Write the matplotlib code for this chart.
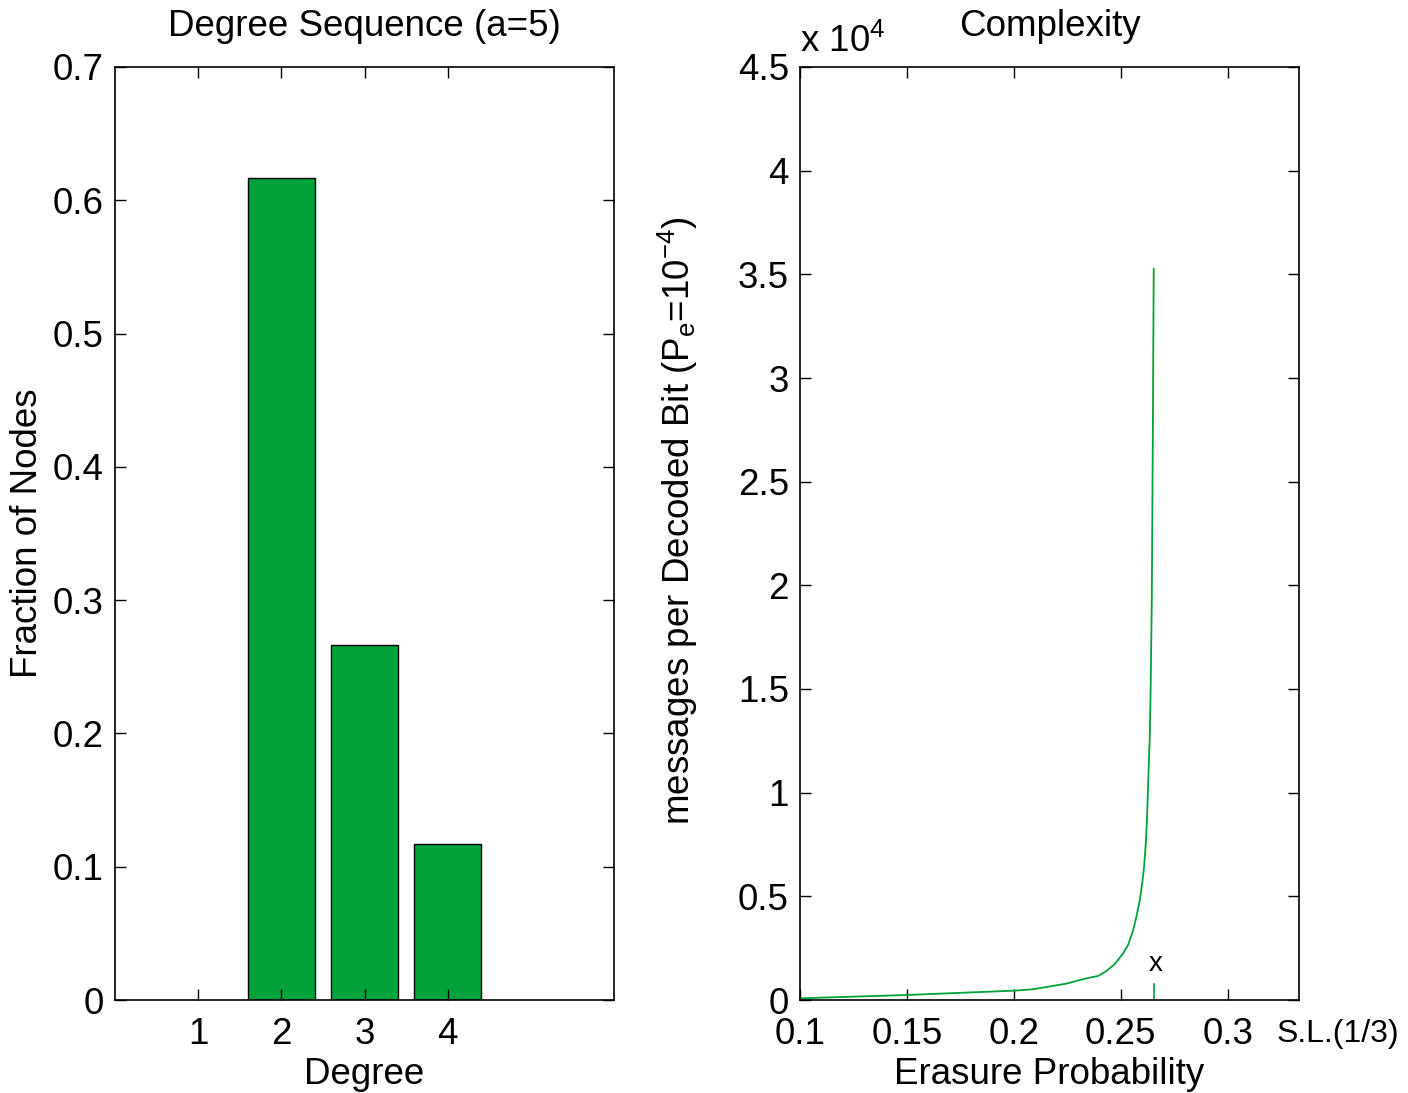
import matplotlib

matplotlib.use("Agg")

import matplotlib.pyplot as plt  # noqa: E402
from matplotlib.ticker import FuncFormatter  # noqa: E402

plt.rcParams["font.family"] = ["Liberation Sans", "DejaVu Sans"]
plt.rcParams["mathtext.fontset"] = "custom"
plt.rcParams["mathtext.rm"] = "Liberation Sans"
plt.rcParams["mathtext.it"] = "Liberation Sans"

# ---- data -----------------------------------------------------------------
degrees = [2, 3, 4]
fractions = [0.617, 0.266, 0.117]
degree_ticks = [1, 2, 3, 4]

erasure_prob = [0.1, 0.1499, 0.1997, 0.2089, 0.2246, 0.2340, 0.2394, 0.2433,
                0.2472, 0.2511, 0.2534, 0.2558, 0.2573, 0.2589, 0.2600, 0.2609,
                0.2617, 0.2623, 0.2629, 0.2636, 0.2640, 0.2643, 0.2645, 0.2650,
                0.2654]
messages = [82, 241, 449, 516, 790, 1047, 1158, 1399,
            1736, 2251, 2653, 3376, 4019, 4823, 5628, 6430,
            7558, 8840, 10770, 12862, 15274, 17686, 19292, 27490,
            35256]

threshold = 0.2655
threshold_mark = [0, 770]
erasure_ticks = [0.1, 0.15, 0.2, 0.25, 0.3]
message_ticks = [0, 5000, 10000, 15000, 20000, 25000, 30000, 35000, 40000, 45000]

GREEN = "#00a33a"
FS = 26.5

fig = plt.figure(figsize=(14.08, 10.93), dpi=100)
ax1 = fig.add_axes([115 / 1408, 93 / 1093, 499 / 1408, 933 / 1093])
ax2 = fig.add_axes([800 / 1408, 93 / 1093, 499 / 1408, 933 / 1093])


def _style(ax):
    ax.tick_params(direction="in", length=8, width=1, top=True, right=True,
                   labelsize=FS)
    ax.tick_params(axis="y", pad=8)
    ax.tick_params(axis="x", pad=12)
    for sp in ax.spines.values():
        sp.set_linewidth(1.2)


# ---- left: degree sequence -------------------------------------------------
ax1.bar(degrees, fractions, width=0.8, color=GREEN, edgecolor="black", linewidth=1)
ax1.set_xlim(0, 6)
ax1.set_ylim(0, 0.7)
ax1.set_xticks(degree_ticks)
ax1.set_yticks([0, 0.1, 0.2, 0.3, 0.4, 0.5, 0.6, 0.7])
ax1.yaxis.set_major_formatter(FuncFormatter(lambda v, p: f"{v:g}"))
ax1.set_xlabel("Degree", fontsize=FS, labelpad=4)
ax1.set_ylabel("Fraction of Nodes", fontsize=FS)
ax1.yaxis.set_label_coords(-0.14, 0.5)
ax1.set_title("Degree Sequence (a=5)", fontsize=FS, pad=22)
_style(ax1)

# ---- right: complexity -----------------------------------------------------
ax2.plot(erasure_prob, messages, color=GREEN, linewidth=1.3)
ax2.plot([threshold, threshold], threshold_mark, color=GREEN, linewidth=1.2)
ax2.text(threshold + 0.0009, 1750, "x", fontsize=20, ha="center", va="center")
ax2.set_xlim(0.1, 1 / 3)
ax2.set_ylim(0, 45000)
ax2.set_xticks(erasure_ticks)
ax2.xaxis.set_major_formatter(FuncFormatter(lambda v, p: f"{v:g}"))
ax2.set_yticks(message_ticks)
ax2.yaxis.set_major_formatter(FuncFormatter(lambda v, p: f"{v / 1e4:g}"))
ax2.text(0.0, 1.008, r"x 10$^{4}$", transform=ax2.transAxes, fontsize=FS,
         ha="left", va="bottom")
ax2.text(1 / 3 + 0.0183, -900, "S.L.(1/3)", fontsize=23, ha="center", va="top")
ax2.set_xlabel("Erasure Probability", fontsize=FS, labelpad=4)
ax2.set_ylabel(r"messages per Decoded Bit (P$_e$=10$^{-4}$)", fontsize=FS)
ax2.yaxis.set_label_coords(-0.2, 0.514)
ax2.set_title("Complexity", fontsize=FS, pad=22)
_style(ax2)

fig.savefig("out.png", dpi=100, facecolor="white")
